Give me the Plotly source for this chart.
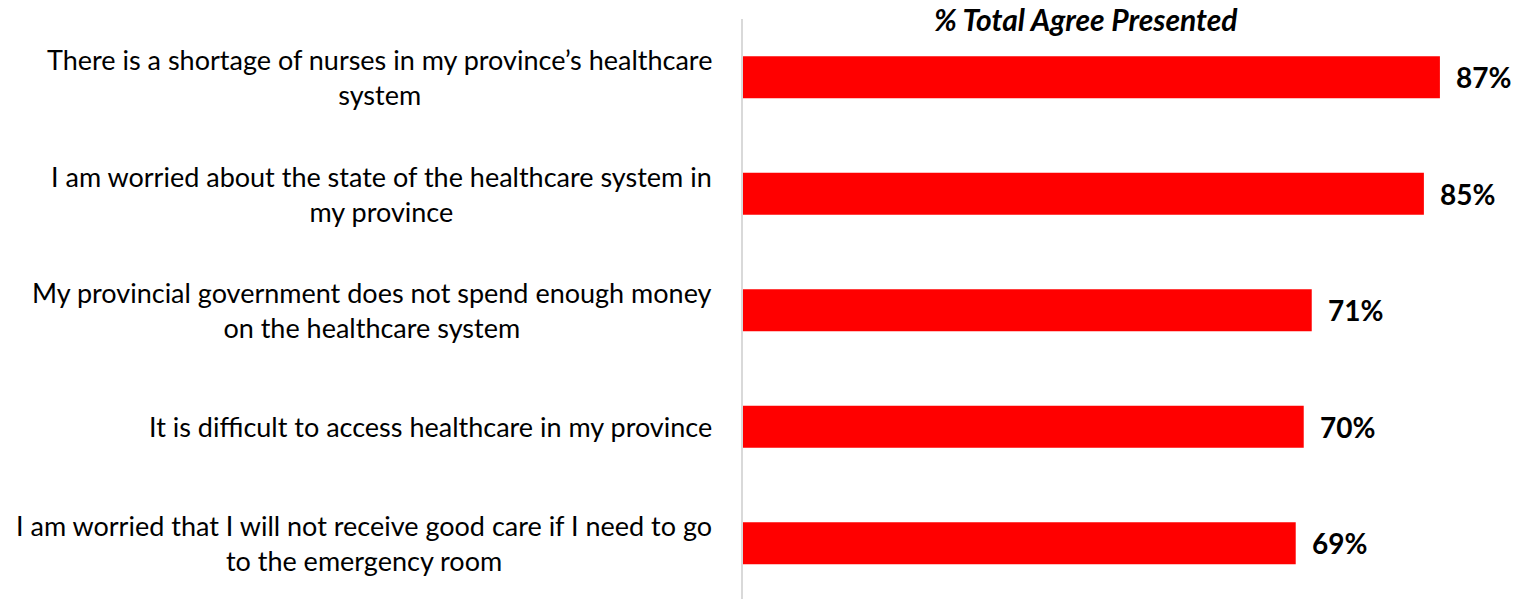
import plotly.graph_objects as go

categories = [
    "There is a shortage of nurses in my province’s healthcare<br>system",
    "I am worried about the state of the healthcare system in<br>my province",
    "My provincial government does not spend enough money<br>on the healthcare system",
    "It is difficult to access healthcare in my province",
    "I am worried that I will not receive good care if I need to go<br>to the emergency room",
]
values = [87, 85, 71, 70, 69]
value_labels = ["87%", "85%", "71%", "70%", "69%"]
title_text = "% Total Agree Presented"

W, H = 1518, 599
plot_left, plot_right = 743, 1512
plot_top, plot_bottom = 19, 599
x_max = 96

idx = list(range(len(categories)))

fig = go.Figure()
fig.add_trace(go.Bar(
    x=values, y=idx, orientation="h",
    marker=dict(color="#FF0000", line=dict(width=0)),
    width=0.36, hoverinfo="skip",
))

FONT = "Lato"
pw = plot_right - plot_left
ph = plot_bottom - plot_top
annotations = []
for i, (cat, v, lab) in enumerate(zip(categories, values, value_labels)):
    annotations.append(dict(
        x=-29 / pw, xref="paper", y=i, yref="y",
        text=cat, showarrow=False, xanchor="right", yanchor="middle",
        align="center", font=dict(family=FONT, size=27, color="#000000"),
    ))
    annotations.append(dict(
        x=v, xref="x", y=i, yref="y", text="<b>" + lab + "</b>",
        showarrow=False, xanchor="left", yanchor="middle", xshift=14,
        font=dict(family=FONT, size=28, color="#000000"),
    ))
annotations.append(dict(
    x=(1086 - plot_left) / pw, xref="paper",
    y=1 + (plot_top - 19) / ph, yref="paper",
    text="<b><i>" + title_text + "</i></b>",
    showarrow=False, xanchor="center", yanchor="middle", borderpad=0,
    font=dict(family=FONT, size=30, color="#000000"),
))

fig.update_layout(
    width=W, height=H, autosize=False,
    margin=dict(l=plot_left, r=W - plot_right, t=plot_top, b=H - plot_bottom, pad=0),
    paper_bgcolor="white", plot_bgcolor="white",
    showlegend=False,
    xaxis=dict(range=[0, x_max], visible=False, fixedrange=True),
    yaxis=dict(
        range=[4.479, -0.5], showticklabels=False, showgrid=False, zeroline=False,
        showline=True, linecolor="#D9D9D9", linewidth=1.5, ticks="", fixedrange=True,
    ),
    annotations=annotations,
)

fig.write_html(
    "out.html",
    config={"displayModeBar": False},
    post_script="document.body.style.margin='0';document.body.style.overflow='hidden';",
)
